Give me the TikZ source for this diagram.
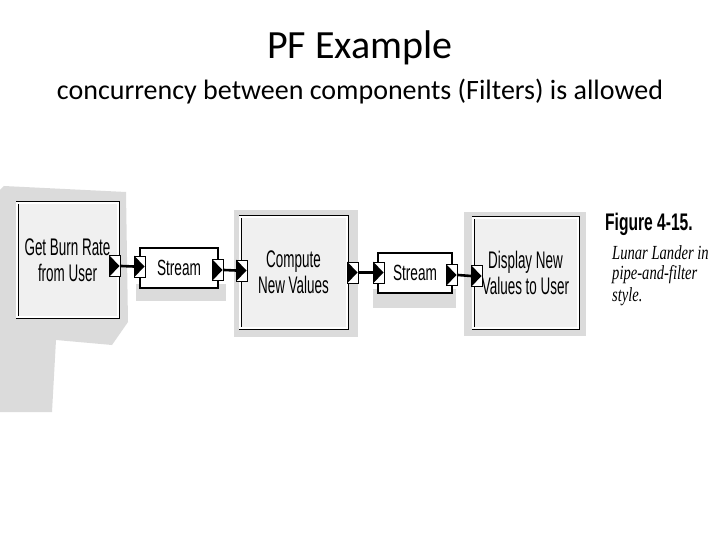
\documentclass[tikz,border=0pt]{standalone}
\usepackage{fontspec}
\setmainfont{Carlito}
\newfontfamily\boxfont{Liberation Sans}
\newfontfamily\capserif{Liberation Serif}
\usetikzlibrary{calc}
\newcommand{\nar}[1]{\scalebox{0.56}[1]{#1}}
\tikzset{
  shade/.style={fill=gray!28, draw=none},
  filter/.style={draw, double, double distance=1.6pt, line width=0.7pt, fill=gray!12, inner sep=0pt, align=center, font=\boxfont\fontsize{24}{26}\selectfont},
  streambox/.style={draw, line width=1.6pt, fill=white, inner sep=0pt, font=\boxfont\fontsize{22}{24}\selectfont},
  port/.style={draw, line width=1pt, fill=white, minimum width=11pt, minimum height=21pt, inner sep=0pt},
  pipe/.style={draw=black, line width=2.6pt},
}
\newcommand{\tri}[1]{\fill[black] (#1.north west) -- (#1.south west) -- ($(#1.east)+(-1.5,0)$) -- cycle;}
\begin{document}
\begin{tikzpicture}[x=1pt,y=-1pt]
\useasboundingbox (0,0) rectangle (720,540);
% titles
\node (title) at (360,48) {\fontsize{40}{46}\selectfont PF Example};
\node (subtitle) at (360,92) {\fontsize{28}{32}\selectfont concurrency between components (Filters) is allowed};
% shadows
\fill[shade] (4,186) -- (126,192) -- (128,322) -- (112,345) -- (56,340) -- (52,412) -- (0,412) -- (0,190) -- cycle;
\fill[shade] (234,210) rectangle (358,337);
\fill[shade] (464,212) rectangle (586,336);
\fill[shade] (136,284) rectangle (226,301);
\fill[shade] (373,289) rectangle (456,308);
% filters
\node[filter, minimum width=101pt, minimum height=114pt] (get) at (67.5,260) {\nar{Get Burn Rate}\\\nar{from User}};
\node[filter, minimum width=107pt, minimum height=111pt] (compute) at (293.5,272.5) {\nar{Compute}\\\nar{New Values}};
\node[filter, minimum width=105pt, minimum height=110pt] (display) at (525.5,273) {\nar{Display New}\\\nar{Values to User}};
% streams
\node[streambox, minimum width=78pt, minimum height=40pt] (s1) at (179,268) {\scalebox{0.62}[1]{Stream}};
\node[streambox, minimum width=74pt, minimum height=40pt] (s2) at (415,273) {\scalebox{0.62}[1]{Stream}};
% ports
\node[port] (p1) at (115,266) {};
\node[port] (p2) at (140,266.5) {};
\node[port] (p3) at (218,270) {};
\node[port] (p4) at (242,270.5) {};
\node[port] (p5) at (353,272.5) {};
\node[port] (p6) at (379,272.5) {};
\node[port] (p7) at (452,275) {};
\node[port] (p8) at (477,276) {};
\tri{p1}\tri{p2}\tri{p3}\tri{p4}\tri{p5}\tri{p6}\tri{p7}\tri{p8}
% pipes
\draw[pipe] (p1.east) -- (p2.west);
\draw[pipe] (p3.east) -- (p4.west);
\draw[pipe] (p5.east) -- (p6.west);
\draw[pipe] (p7.east) -- (p8.west);
% caption
\node[anchor=west, inner sep=0pt] (fig) at (605,224) {\boxfont\bfseries\fontsize{24}{28}\selectfont\scalebox{0.65}[1]{Figure 4-15.}};
\node[anchor=west, inner sep=0pt] (cap1) at (612,253) {\capserif\itshape\fontsize{20}{22}\selectfont\scalebox{0.73}[1]{Lunar Lander in}};
\node[anchor=west, inner sep=0pt] (cap2) at (612,275) {\capserif\itshape\fontsize{20}{22}\selectfont\scalebox{0.73}[1]{pipe-and-filter}};
\node[anchor=west, inner sep=0pt] (cap3) at (612,297) {\capserif\itshape\fontsize{20}{22}\selectfont\scalebox{0.73}[1]{style.}};
\end{tikzpicture}
\end{document}
